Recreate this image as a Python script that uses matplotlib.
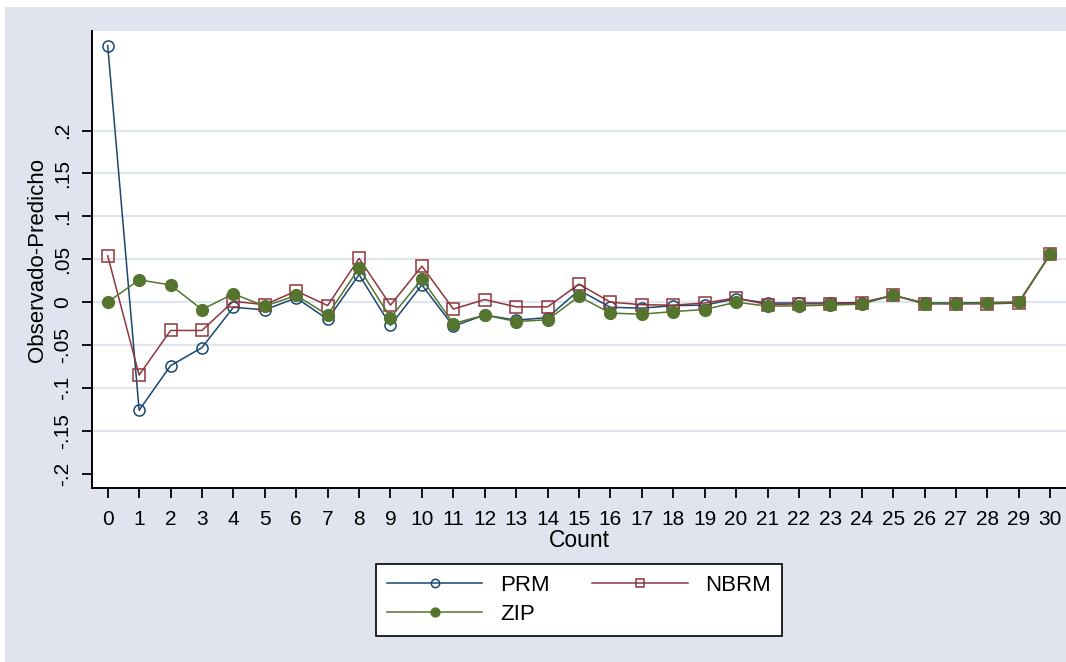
import numpy as np
import matplotlib
matplotlib.use('Agg')
import matplotlib.pyplot as plt
from matplotlib.patches import Rectangle

plt.rcParams['font.family'] = ['Liberation Sans', 'DejaVu Sans']

# ------------------------
# data
# ------------------------
count = list(range(31))

prm = [0.299, -0.126, -0.074, -0.053, -0.006, -0.009, 0.005, -0.020, 0.032, -0.027,
       0.020, -0.028, -0.015, -0.021, -0.018, 0.014, -0.006, -0.007, -0.004, -0.0035,
       0.004, -0.001, -0.001, -0.001, -0.0005, 0.008, -0.001, -0.001, -0.0005, 0.0,
       0.056]

nbrm = [0.054, -0.085, -0.033, -0.033, 0.001, -0.003, 0.013, -0.004, 0.051, -0.0035,
        0.042, -0.008, 0.003, -0.0055, -0.0055, 0.021, 0.0, -0.003, -0.0035, -0.001,
        0.005, -0.003, -0.002, -0.002, -0.001, 0.008, -0.002, -0.002, -0.002, -0.001,
        0.056]

zip_ = [0.0, 0.026, 0.020, -0.0086, 0.0097, -0.0047, 0.0078, -0.0148, 0.0397, -0.018,
        0.027, -0.025, -0.015, -0.0226, -0.0206, 0.0066, -0.0128, -0.014, -0.011, -0.0086,
        0.0, -0.0047, -0.0043, -0.0035, -0.0023, 0.008, -0.0016, -0.0016, -0.001, 0.0,
        0.056]

yticks = [-0.2, -0.15, -0.1, -0.05, 0, 0.05, 0.1, 0.15, 0.2]
ytick_labels = ['-.2', '-.15', '-.1', '-.05', '0', '.05', '.1', '.15', '.2']

navy = '#1a476f'
maroon = '#90353b'
green = '#55752f'
bg = '#dfe4ee'

fig = plt.figure(figsize=(10.66, 6.62), dpi=100, facecolor='white')
fig.patches.append(Rectangle((5 / 1066, 0), 1, 1 - 7 / 662, transform=fig.transFigure,
                             facecolor=bg, edgecolor='none', zorder=-10))

ax = fig.add_axes([92 / 1066, 1 - 488 / 662, 1 - 92 / 1066, (488 - 31) / 662])
ax.set_facecolor('white')

for yv in yticks[1:]:
    ax.axhline(yv, color=bg, lw=1.6, zorder=0)

ax.plot(count, prm, color=navy, lw=1.1, marker='o', ms=8, mfc='none', mec=navy,
        mew=1.1, label='PRM', zorder=3)
ax.plot(count, nbrm, color=maroon, lw=1.1, marker='s', ms=8, mfc='none', mec=maroon,
        mew=1.1, label='NBRM', zorder=4)
ax.plot(count, zip_, color=green, lw=1.1, marker='o', ms=8.5, mfc=green, mec=green,
        label='ZIP', zorder=5)

ax.set_xlim(-0.5, 30.5)
ax.set_ylim(-0.2166, 0.316)
ax.set_xticks(count)
ax.set_xticklabels([str(c) for c in count])
ax.set_yticks(yticks)
ax.set_yticklabels(ytick_labels, rotation=90, va='center')

for s in ['top', 'right']:
    ax.spines[s].set_visible(False)
for s in ['left', 'bottom']:
    ax.spines[s].set_linewidth(1.4)
ax.tick_params(axis='both', direction='out', length=7, width=1.3, labelsize=15)
ax.tick_params(axis='x', pad=9)
ax.tick_params(axis='y', pad=7)

ax.set_xlabel('Count', fontsize=16.5, labelpad=0)
ax.set_ylabel('Observado-Predicho', fontsize=16, labelpad=4)

h, l = ax.get_legend_handles_labels()
order = [0, 2, 1]
leg = fig.legend([h[i] for i in order], [l[i] for i in order],
                 loc='center', bbox_to_anchor=(579 / 1066, 1 - 600 / 662), ncol=2,
                 fontsize=16, frameon=True, fancybox=False, edgecolor='black',
                 framealpha=1, handlelength=4.3, columnspacing=1.9, handletextpad=0.8,
                 borderpad=0.5, labelspacing=0.35, markerscale=0.75)
leg.get_frame().set_linewidth(1.2)
leg.get_frame().set_facecolor('white')

fig.savefig('out.png', dpi=100, facecolor=fig.get_facecolor())
